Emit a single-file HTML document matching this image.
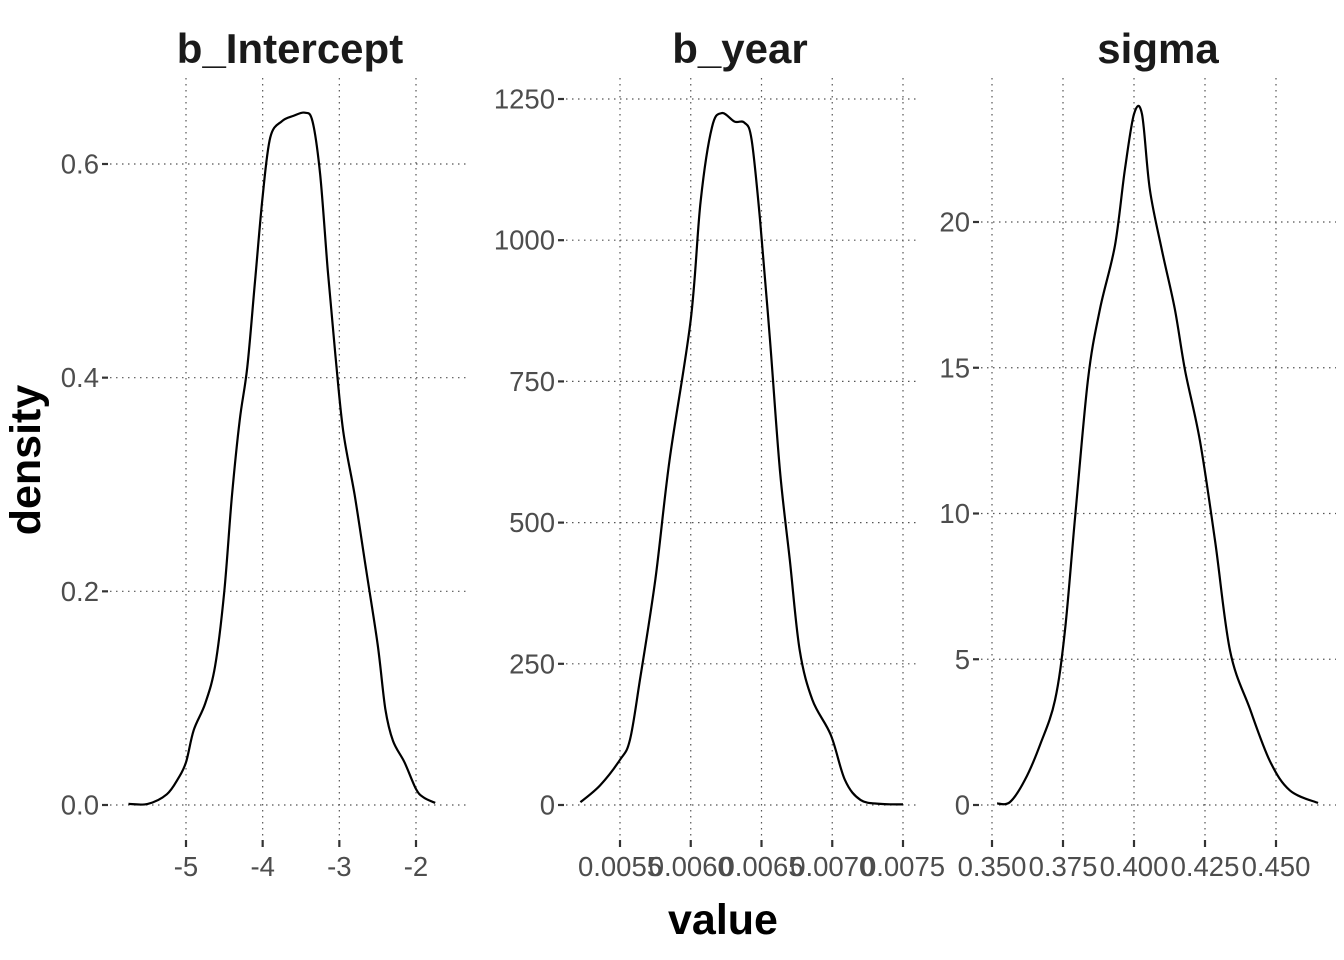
<!DOCTYPE html>
<html><head><meta charset="utf-8"><style>
body{margin:0;background:#fff;}
svg{display:block;font-family:"Liberation Sans",sans-serif;}
</style></head><body>
<svg id="c" width="1344" height="960" xmlns="http://www.w3.org/2000/svg">
<text x="290" y="63" text-anchor="middle" font-size="42" font-weight="bold" fill="#1a1a1a">b_Intercept</text>
<text x="740" y="63" text-anchor="middle" font-size="42" font-weight="bold" fill="#1a1a1a">b_year</text>
<text x="1158" y="63" text-anchor="middle" font-size="42" font-weight="bold" fill="#1a1a1a">sigma</text>
<text x="723" y="934" text-anchor="middle" font-size="43" font-weight="bold" fill="#000">value</text>
<text transform="translate(40,460) rotate(-90)" text-anchor="middle" font-size="43" font-weight="bold" fill="#000">density</text>
</svg>
<script>
const p1X=[-5.75,-5.5,-5.25,-5.1,-5.0,-4.9,-4.75,-4.62,-4.5,-4.4,-4.3,-4.2,-4.1,-4.0,-3.9,-3.75,-3.6,-3.45,-3.35,-3.25,-3.15,-3.05,-2.95,-2.8,-2.65,-2.5,-2.4,-2.3,-2.15,-2.0,-1.9,-1.75];
const p1Y=[0.001,0.001,0.01,0.025,0.04,0.07,0.095,0.13,0.2,0.29,0.36,0.41,0.49,0.57,0.625,0.64,0.645,0.648,0.64,0.59,0.5,0.42,0.35,0.29,0.22,0.15,0.09,0.06,0.04,0.015,0.007,0.002];
const p1XTicks=[-5,-4,-3,-2];
const p1YTicks=[0,0.2,0.4,0.6];
const p1YLabels=["0.0","0.2","0.4","0.6"];
const p2X=[0.00522,0.00536,0.0055,0.00557,0.00564,0.00575,0.00585,0.006,0.00607,0.00615,0.00622,0.00631,0.00638,0.00643,0.00649,0.00656,0.00663,0.0067,0.00677,0.00686,0.00699,0.00709,0.0072,0.00734,0.0075];
const p2Y=[5,35,80,115,220,400,610,860,1070,1200,1225,1210,1208,1178,1035,823,593,434,274,186,124,44,9,2,1];
const p2XTicks=[0.0055,0.006,0.0065,0.007,0.0075];
const p2XLabels=["0.0055","0.0060","0.0065","0.0070","0.0075"];
const p2YTicks=[0,250,500,750,1000,1250];
const p3X=[0.3518,0.3563,0.3616,0.3669,0.3722,0.3757,0.3792,0.3838,0.388,0.3933,0.3968,0.4,0.4028,0.4056,0.4099,0.4144,0.418,0.4232,0.4285,0.4338,0.4408,0.4479,0.4549,0.4648];
const p3Y=[0.05,0.1,0.86,2.06,3.6,6.0,9.8,14.6,17,19.2,21.8,23.7,23.7,21.1,19,17,14.9,12.5,9.1,5.3,3.3,1.5,0.5,0.07];
const p3XTicks=[0.35,0.375,0.4,0.425,0.45];
const p3XLabels=["0.350","0.375","0.400","0.425","0.450"];
const p3YTicks=[0,5,10,15,20];

const svg=document.getElementById('c');
const NS='http://www.w3.org/2000/svg';
function mk(tag,attrs,parent){const e=document.createElementNS(NS,tag);for(const k in attrs)e.setAttribute(k,attrs[k]);(parent||svg).appendChild(e);return e;}
function smooth(pts){
  let d='M'+pts[0][0].toFixed(1)+','+pts[0][1].toFixed(1);
  for(let i=0;i<pts.length-1;i++){
    const p0=pts[i-1]||pts[i],p1=pts[i],p2=pts[i+1],p3=pts[i+2]||p2;
    const c1=[p1[0]+(p2[0]-p0[0])/6,p1[1]+(p2[1]-p0[1])/6];
    const c2=[p2[0]-(p3[0]-p1[0])/6,p2[1]-(p3[1]-p1[1])/6];
    d+='C'+c1.map(v=>v.toFixed(1)).join(',')+' '+c2.map(v=>v.toFixed(1)).join(',')+' '+p2[0].toFixed(1)+','+p2[1].toFixed(1);
  }
  return d;
}
function panel(name,left,right,top,bottom,xa,xb,ya,yb,xs,ys,xt,xl,yt,yl){
  const g=mk('g',{});
  
  
  const fx=v=>xa.px+(v-xa.v)*(xb.px-xa.px)/(xb.v-xa.v);
  const fy=v=>ya.px+(v-ya.v)*(yb.px-ya.px)/(yb.v-ya.v);
  xt.forEach((t,i)=>{const x=fx(t);
    const l=mk('line',{x1:x,x2:x,y1:top,y2:bottom,stroke:'#555','stroke-width':1.2,'stroke-dasharray':'1.5 4.5'},g);
    
    mk('line',{x1:x,x2:x,y1:bottom+2,y2:bottom+9,stroke:'#333','stroke-width':2.2},g);
    const tx=mk('text',{x:x,y:bottom+38,'text-anchor':'middle','font-size':27.5,fill:'#4d4d4d'},g);
    
    tx.textContent=xl?xl[i]:String(t);});
  yt.forEach((t,i)=>{const y=fy(t);
    const l=mk('line',{x1:left,x2:right,y1:y,y2:y,stroke:'#555','stroke-width':1.2,'stroke-dasharray':'1.5 4.5'},g);
    
    mk('line',{x1:left-8,x2:left-2,y1:y,y2:y,stroke:'#333','stroke-width':2.2},g);
    const tx=mk('text',{x:left-11,y:y+9.5,'text-anchor':'end','font-size':27.5,fill:'#4d4d4d'},g);
    
    tx.textContent=yl?yl[i]:String(t);});
  const pts=xs.map((v,i)=>[fx(v),fy(ys[i])]);
  const p=mk('path',{d:smooth(pts),fill:'none',stroke:'#000','stroke-width':2.2,'stroke-linejoin':'round'},g);
  
  
}
panel('b-intercept',110,468,78,838,{v:-5,px:186},{v:-2,px:416},{v:0,px:805},{v:0.6,px:164},p1X,p1Y,p1XTicks,null,p1YTicks,p1YLabels);
panel('b-year',566,916,78,838,{v:0.0055,px:620},{v:0.0075,px:903},{v:0,px:805},{v:1250,px:99},p2X,p2Y,p2XTicks,p2XLabels,p2YTicks,null);
panel('sigma',981,1336,78,838,{v:0.35,px:992},{v:0.45,px:1276},{v:0,px:805},{v:20,px:222},p3X,p3Y,p3XTicks,p3XLabels,p3YTicks,null);
</script>
</body></html>
